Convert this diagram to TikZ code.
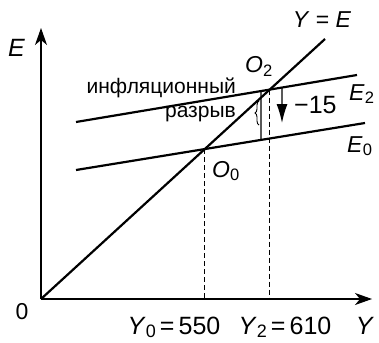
\documentclass[tikz,border=0pt]{standalone}
\usepackage{fontspec}
\setmainfont{Liberation Sans}
\usepackage{graphicx}
\usetikzlibrary{arrows.meta,decorations.pathreplacing,calc}
\newcommand\lsub[1]{\raisebox{-0.25ex}{\scalebox{0.72}{#1}}}
\begin{document}
\begin{tikzpicture}[x=1pt,y=-1pt,
  axisline/.style={line width=1.2pt,-{Stealth[length=17pt,width=12pt,inset=5pt]}},
  curve/.style={line width=2.2pt},
  guide/.style={line width=1pt,dash pattern=on 5pt off 3pt},
  gapline/.style={line width=1.2pt},
  shiftarrow/.style={line width=1.3pt,-{Latex[length=19pt,width=11pt]}},
  lab/.style={font=\fontsize{23}{27}\selectfont,inner sep=0pt},
  biglab/.style={font=\fontsize{25}{29}\selectfont,inner sep=0pt},
  word/.style={font=\fontsize{21}{25}\selectfont,inner sep=0pt}]
\useasboundingbox (0,0) rectangle (379,342);
\fill[white] (0,0) rectangle (379,342);
% axes
\coordinate (O) at (41,299);
\coordinate (ytop) at (41,28);
\coordinate (xend) at (372,299);
\draw[axisline] (O) -- (ytop);
\draw[axisline] (O) -- (xend);
% lines
\coordinate (L) at (325,39);
\coordinate (e2a) at (76,122);
\coordinate (e2b) at (357,75);
\coordinate (e0a) at (76,170);
\coordinate (e0b) at (365,123);
\draw[curve] (O) -- (L);
\draw[curve] (e2a) -- (e2b);
\draw[curve] (e0a) -- (e0b);
\coordinate (O2) at (intersection of O--L and e2a--e2b);
\coordinate (O0) at (intersection of O--L and e0a--e0b);
\coordinate (O2b) at (O2 |- O);
\coordinate (O0b) at (O0 |- O);
\draw[guide] (O2) -- (O2b);
\draw[guide] (O0) -- (O0b);
% gap
\coordinate (gtop) at ($(e2a)!0.6584!(e2b)$);
\coordinate (gbot) at ($(e0a)!0.6401!(e0b)$);
\draw[gapline] (gtop) -- (gbot);
\coordinate (b1) at (259,101);
\coordinate (b2) at (259,125);
\draw[line width=0.9pt,decorate,decoration={brace,amplitude=4pt,mirror}] (b1) -- (b2);
% shift arrow
\coordinate (astart) at ($(e2a)!0.7331!(e2b)$);
\coordinate (atip) at (282,123);
\draw[shiftarrow] (astart) -- (atip);
% labels
\node[biglab,anchor=base west] (lE) at (8,57) {\textit{E}};
\node[lab,anchor=base] (lYE) at (322,28) {\textit{Y} = \textit{E}};
\node[lab,anchor=base west] (lO2) at (245,73) {\textit{O}\lsub{2}};
\node[lab,anchor=base west] (lO0) at (212,177) {\textit{O}\lsub{0}};
\node[lab,anchor=base west] (lE2) at (349,100) {\textit{E}\lsub{2}};
\node[lab,anchor=base west] (lE0) at (347,152) {\textit{E}\lsub{0}};
\node[biglab,anchor=base west] (l15) at (294,113) {−15};
\node[word,anchor=base east] (w1) at (236,93) {инфляционный};
\node[word,anchor=base east] (w2) at (236,117) {разрыв};
\node[lab,anchor=base] (l0) at (22,319) {0};
\node[biglab,anchor=base] (lY0) at (174,334) {\textit{Y}\lsub{0}\,=\,550};
\node[biglab,anchor=base] (lY2) at (285,334) {\textit{Y}\lsub{2}\,=\,610};
\node[biglab,anchor=base] (lY) at (365,334) {\textit{Y}};
\end{tikzpicture}
\end{document}
